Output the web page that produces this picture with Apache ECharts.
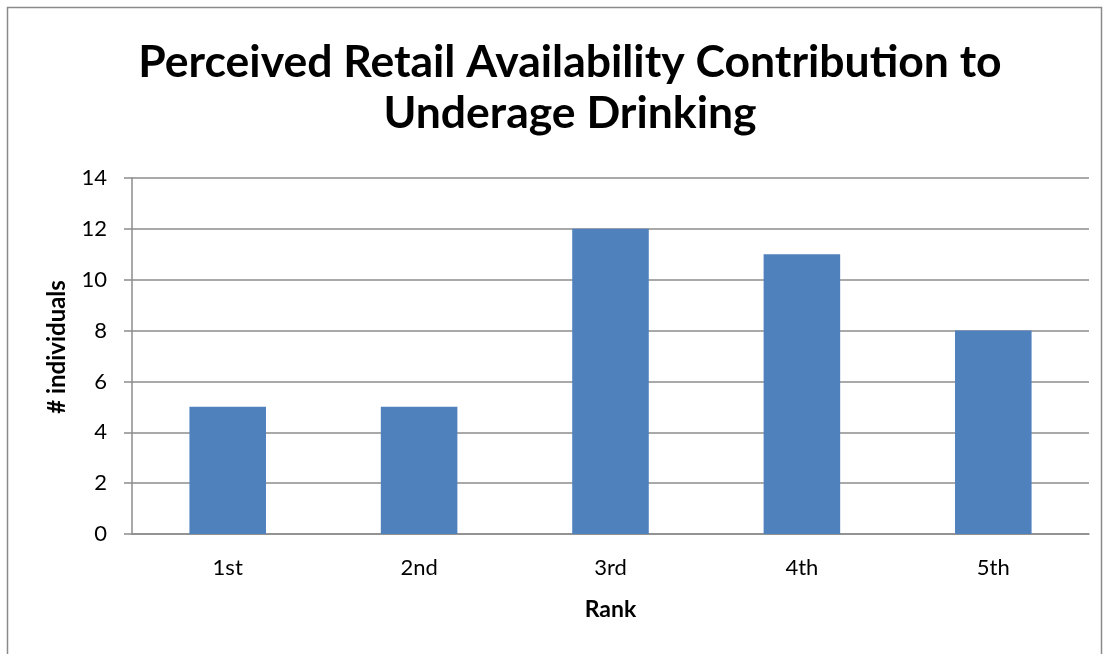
<!DOCTYPE html>
<html><head><meta charset="utf-8">
<script src="https://cdn.jsdelivr.net/npm/echarts@6/dist/echarts.min.js"></script>
<style>html,body{margin:0;padding:0;background:#fff}#c{width:1108px;height:654px}</style>
</head><body><div id="c"></div>
<script>
const categories = ['1st', '2nd', '3rd', '4th', '5th'];
const values = [5, 5, 12, 11, 8];
const titleText = 'Perceived Retail Availability Contribution to\nUnderage Drinking';
const yName = '# individuals';
const xName = 'Rank';

const FONT = 'Lato, "Open Sans", sans-serif';
const chart = echarts.init(document.getElementById('c'));
chart.setOption({
  animation: false,
  backgroundColor: '#fff',
  graphic: [{
    type: 'rect', shape: { x: 7.5, y: 7.5, width: 1094, height: 700 },
    style: { fill: 'none', stroke: '#8a8a8a', lineWidth: 1.5 }, silent: true
  }],
  title: {
    text: titleText, left: 565, top: 32, textAlign: 'center',
    textStyle: { fontFamily: FONT, fontWeight: 'bold', fontSize: 44.5, lineHeight: 51, color: '#000' }
  },
  grid: { left: 132, right: 19, top: 178, bottom: 120 },
  xAxis: {
    type: 'category', data: categories,
    name: xName, nameLocation: 'middle', nameGap: 64,
    nameTextStyle: { fontFamily: FONT, fontWeight: 'bold', fontSize: 23, color: '#000' },
    axisLine: { lineStyle: { color: '#8c8c8c', width: 1.5 } },
    axisTick: { show: false },
    axisLabel: { fontFamily: FONT, fontSize: 22, color: '#000', margin: 23 }
  },
  yAxis: {
    type: 'value', min: 0, max: 14, interval: 2,
    name: yName, nameLocation: 'middle', nameGap: 63,
    nameTextStyle: { fontFamily: FONT, fontWeight: 'bold', fontSize: 24, color: '#000', padding: [0, 0, 0, 18] },
    axisLine: { show: true, lineStyle: { color: '#8c8c8c', width: 1.5 } },
    axisTick: { show: true, length: 8, lineStyle: { color: '#8c8c8c', width: 1.5 } },
    axisLabel: { fontFamily: FONT, fontSize: 22, color: '#000', margin: 25 },
    splitLine: { lineStyle: { color: '#8c8c8c', width: 1.5 } }
  },
  series: [{
    type: 'bar', data: values, barWidth: '40%',
    itemStyle: { color: '#4F81BD' }
  }]
});
</script></body></html>
